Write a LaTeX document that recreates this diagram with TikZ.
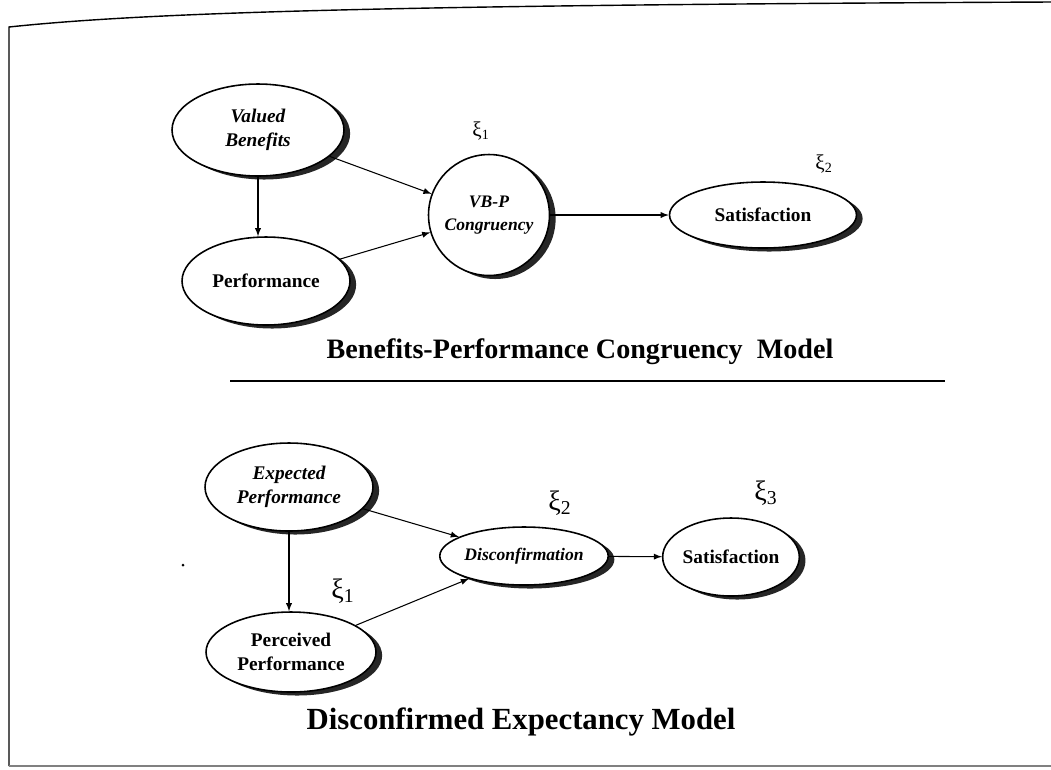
\documentclass[tikz,border=0pt]{standalone}
\usepackage{fontspec}
\setmainfont{Liberation Serif}
\usetikzlibrary{shapes.geometric,shadows}

\begin{document}
\begin{tikzpicture}[x=0.02cm,y=-0.02cm]

      \useasboundingbox (0,0) rectangle (1051,769);

      % page frame of the scan
      \draw[line width=.8pt] (9,766) -- (9,27) .. controls (150,12) and (400,5) .. (1051,2);
      \draw[gray,line width=.6pt] (9,766) -- (1051,766);

      \begin{scope}[every node/.style={ellipse,draw,fill=white,line width=.9pt,inner sep=0pt,
          drop shadow={shadow xshift=3.5pt,shadow yshift=-2pt,fill=black,opacity=.85},
          align=center,font=\bfseries\fontsize{11}{13.5}\selectfont}]
        % upper model
        \node[minimum width=3.44cm,minimum height=1.84cm,font=\bfseries\itshape\fontsize{11}{13.5}\selectfont]
          (1) at (258,130) {Valued\\Benefits};
        \node[minimum width=3.36cm,minimum height=1.76cm] (2) at (266,281) {Performance};
        \node[circle,minimum size=2.42cm,font=\bfseries\itshape\fontsize{10}{13}\selectfont]
          (3) at (489,215) {VB-P\\Congruency};
        \node[minimum width=3.74cm,minimum height=1.32cm] (4) at (763,215) {Satisfaction};
        % lower model
        \node[minimum width=3.36cm,minimum height=1.76cm,font=\bfseries\itshape\fontsize{11}{13.5}\selectfont]
          (5) at (289,487) {Expected\\Performance};
        \node[minimum width=3.4cm,minimum height=1.6cm] (6) at (291,652) {Perceived\\Performance};
        \node[minimum width=3.16cm,minimum height=1.16cm,font=\bfseries\itshape\fontsize{10}{12}\selectfont]
          (7) at (524,556) {Disconfirmation};
        \node[minimum width=2.64cm,minimum height=1.56cm] (8) at (731,557) {Satisfaction};
      \end{scope}

      \begin{scope}[every node/.style={inner sep=0pt}]
        \node[font=\fontsize{12}{14}\selectfont] (x1) at (481,131) {ξ\textsubscript{1}};
        \node[font=\fontsize{12}{14}\selectfont] (x2) at (824,164) {ξ\textsubscript{2}};
        \node[font=\fontsize{16}{18}\selectfont] (x3) at (343,591) {ξ\textsubscript{1}};
        \node[font=\fontsize{16}{18}\selectfont] (x4) at (560,503) {ξ\textsubscript{2}};
        \node[font=\fontsize{16}{18}\selectfont] (x5) at (766,493) {ξ\textsubscript{3}};
        \node[font=\bfseries\fontsize{16}{19}\selectfont] (t1) at (580,352)
          {Benefits-Performance Congruency\ \ Model};
        \node[font=\bfseries\fontsize{17.5}{20}\selectfont] (t2) at (521,722)
          {Disconfirmed Expectancy Model};
      \end{scope}

      \draw[line width=.8pt] (230,381) -- (945,381);
      \fill (183,565) circle (1.5);

      \begin{scope}[every edge/.style={draw,line width=.6pt,-latex}]
        \path (1) edge (3);
        \path (1) edge (1 |- 2.north);
        \path (2) edge (3);
        \path (3) edge (4);
        \path (5) edge (5 |- 6.north);
        \path (5) edge (7);
        \path (6) edge (7);
        \path (7) edge (8);
      \end{scope}

    \end{tikzpicture}
\end{document}
